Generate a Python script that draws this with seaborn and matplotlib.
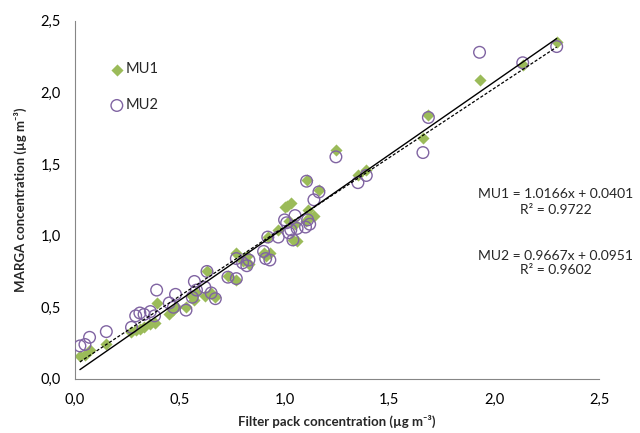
import matplotlib
matplotlib.use("Agg")
import matplotlib.pyplot as plt
import numpy as np
import pandas as pd
import seaborn as sns

# filter pack concentration (shared x) and MARGA concentrations for both units
filter_pack = [0.024, 0.048, 0.07, 0.15, 0.27, 0.29, 0.31, 0.33, 0.36, 0.38,
               0.39, 0.45, 0.47, 0.48, 0.53, 0.56, 0.57, 0.58, 0.62, 0.63,
               0.65, 0.67, 0.73, 0.77, 0.77, 0.80, 0.82, 0.83, 0.90, 0.91,
               0.92, 0.93, 0.97, 1.00, 1.01, 1.02, 1.03, 1.04, 1.05, 1.06,
               1.10, 1.105, 1.11, 1.12, 1.14, 1.164, 1.245, 1.35, 1.39, 1.66,
               1.686, 1.93, 2.136, 2.298]
mu1 = [0.16, 0.17, 0.20, 0.24, 0.33, 0.34, 0.35, 0.36, 0.38, 0.39,
       0.53, 0.45, 0.48, 0.50, 0.50, 0.58, 0.55, 0.60, 0.58, 0.75,
       0.60, 0.57, 0.72, 0.69, 0.88, 0.82, 0.86, 0.80, 0.88, 0.86,
       0.99, 0.88, 1.04, 1.20, 1.21, 1.10, 1.23, 0.97, 1.08, 0.96,
       1.10, 1.39, 1.18, 1.13, 1.14, 1.32, 1.60, 1.42, 1.46, 1.68,
       1.84, 2.09, 2.19, 2.353]
mu2 = [0.23, 0.24, 0.29, 0.33, 0.36, 0.44, 0.46, 0.45, 0.47, 0.44,
       0.62, 0.53, 0.50, 0.59, 0.48, 0.57, 0.68, 0.62, 0.64, 0.75,
       0.60, 0.56, 0.71, 0.70, 0.84, 0.81, 0.79, 0.83, 0.89, 0.84,
       0.99, 0.83, 0.99, 1.11, 1.09, 1.02, 1.04, 0.97, 1.14, 1.05,
       1.06, 1.38, 1.11, 1.08, 1.25, 1.305, 1.55, 1.37, 1.42, 1.58,
       1.825, 2.28, 2.207, 2.32]

# trendline coefficients (slope, intercept, r2)
fit_mu1 = (1.0166, 0.0401, 0.9722)
fit_mu2 = (0.9667, 0.0951, 0.9602)

ticks = [0.0, 0.5, 1.0, 1.5, 2.0, 2.5]

green = "#9BBB59"
purple = "#8064A2"
grey = "#868686"

sns.set_style("white")
plt.rcParams["font.family"] = ["Lato", "DejaVu Sans"]

df = pd.DataFrame({"fp": filter_pack, "MU1": mu1, "MU2": mu2})

fig = plt.figure(figsize=(6.4, 4.33), dpi=100)
ax = fig.add_axes([0.117, 0.125, 0.819, 0.827])

sns.scatterplot(data=df, x="fp", y="MU1", ax=ax, marker="D", s=38,
                color=green, edgecolor=green, linewidth=0, label="MU1", zorder=2)
sns.scatterplot(data=df, x="fp", y="MU2", ax=ax, marker="o", s=70,
                facecolor="none", edgecolor=purple, linewidth=1.0,
                label="MU2", zorder=3)

xs = np.array([min(filter_pack), max(filter_pack)])
ax.plot(xs, fit_mu1[0] * xs + fit_mu1[1], color="black", lw=1.0, zorder=4)
ax.plot(xs, fit_mu2[0] * xs + fit_mu2[1], color="black", lw=0.9,
        ls=(0, (2.5, 1.5)), zorder=4)

ax.set_xlim(0, 2.5)
ax.set_ylim(0, 2.5)
ax.set_xticks(ticks)
ax.set_yticks(ticks)
labels = [f"{t:.1f}".replace(".", ",") for t in ticks]
ax.set_xticklabels(labels)
ax.set_yticklabels(labels)
ax.tick_params(axis="both", direction="out", length=4, width=0.8, color=grey,
               labelsize=10.5, labelcolor="black", pad=6)
for side in ["top", "right"]:
    ax.spines[side].set_visible(False)
for side in ["left", "bottom"]:
    ax.spines[side].set_color(grey)
    ax.spines[side].set_linewidth(0.8)

ax.set_xlabel("Filter pack concentration (µg m⁻³)", fontsize=9.5, fontweight="bold",
              labelpad=6)
ax.set_ylabel("MARGA concentration (µg m⁻³)", fontsize=9.5, fontweight="bold",
              labelpad=10)

leg = ax.legend(loc="upper left", bbox_to_anchor=(0.055, 0.9), frameon=False,
                fontsize=10.5, handletextpad=0.1, labelspacing=1.5,
                borderaxespad=0, handlelength=1.0)

fig.text(556 / 640, 1 - 202 / 433,
         f"MU1 = {fit_mu1[0]:.4f}x + {fit_mu1[1]:.4f}\nR² = {fit_mu1[2]:.4f}",
         ha="center", va="center", fontsize=10, linespacing=1.3)
fig.text(556 / 640, 1 - 263 / 433,
         f"MU2 = {fit_mu2[0]:.4f}x + {fit_mu2[1]:.4f}\nR² = {fit_mu2[2]:.4f}",
         ha="center", va="center", fontsize=10, linespacing=1.3)

fig.savefig("out.png", dpi=100)
